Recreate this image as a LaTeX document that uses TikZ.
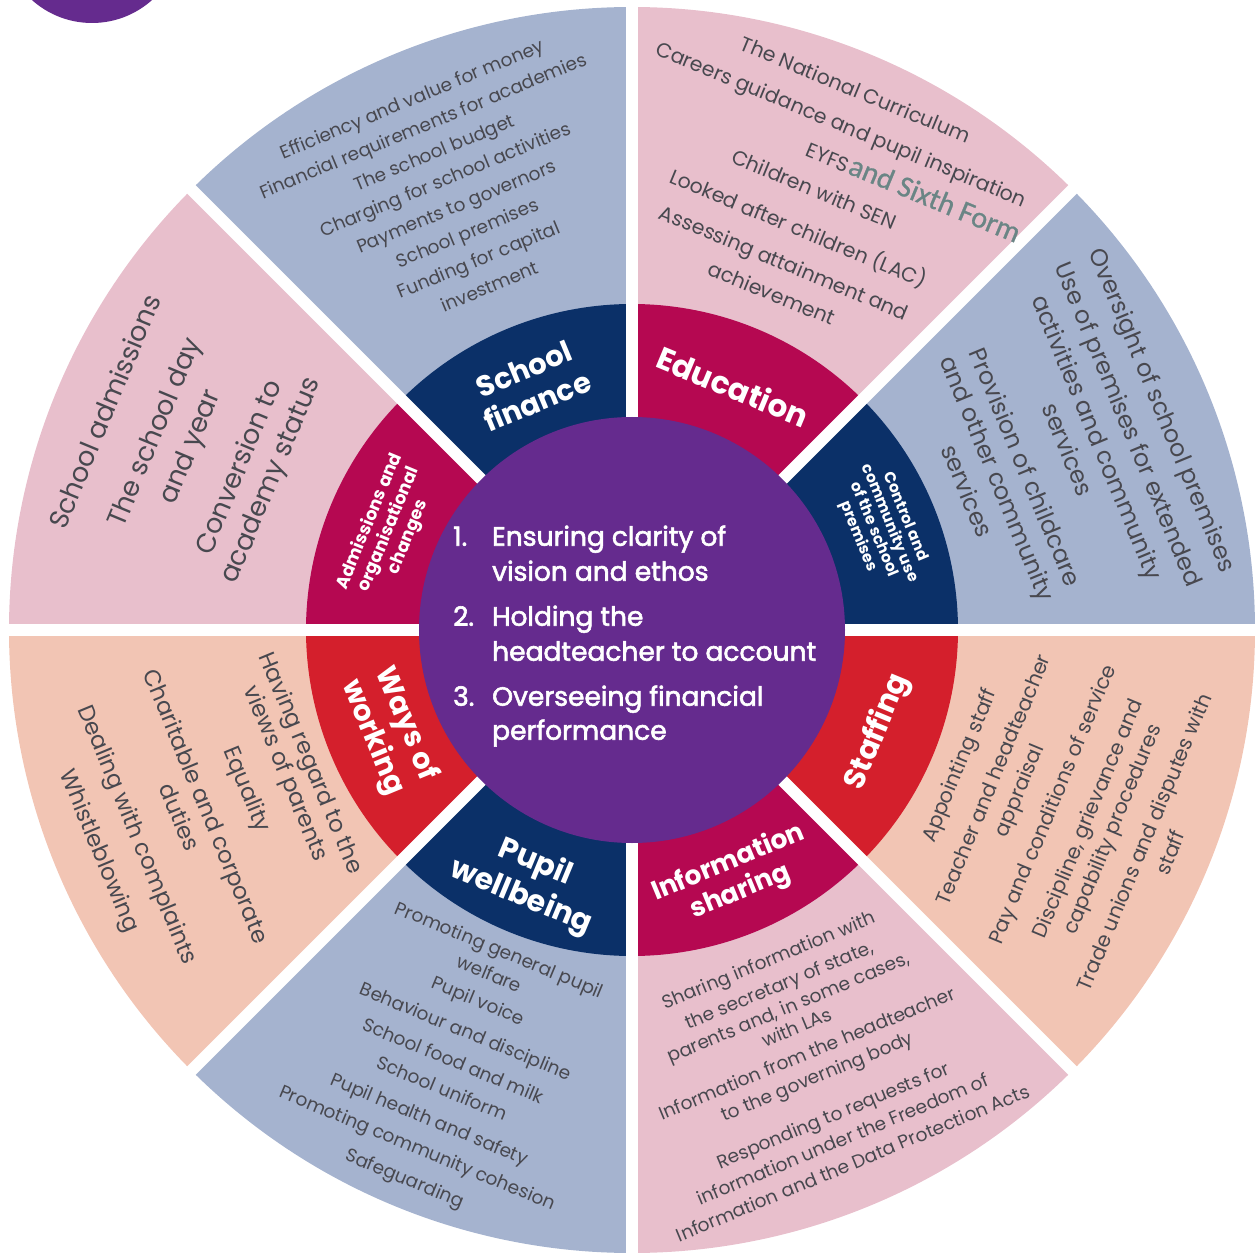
\documentclass[tikz,border=0pt]{standalone}
\usepackage{fontspec}
\setmainfont{Poppins}
\newfontfamily\addfont{Carlito}[FakeBold=0.8]
\newfontfamily\ctrfont{Poppins}[FakeBold=2.2]
\definecolor{cpurple}{HTML}{652B8E}
\definecolor{cnavy}{HTML}{0B3068}
\definecolor{cmag}{HTML}{B50851}
\definecolor{cred}{HTML}{D41F2C}
\definecolor{cblue}{HTML}{A5B3CF}
\definecolor{cpink}{HTML}{E8BFCC}
\definecolor{cpeach}{HTML}{F2C5B4}
\definecolor{ctext}{HTML}{48484F}
\definecolor{cadd}{HTML}{6A8585}
\begin{document}
\begin{tikzpicture}[x=1pt,y=1pt,
  otext/.style={text=ctext, inner sep=0pt, anchor=mid},
  btext/.style={text=white, inner sep=0pt, align=center, anchor=center},
  ctr/.style={text=white, inner sep=0pt, anchor=mid west, font=\ctrfont\fontsize{26.5}{26.5}\selectfont}]
\useasboundingbox (-632,-623) rectangle (623,630);
\clip (-632,-623) rectangle (623,630);
% logo fragment
\fill[cpurple] (-540,697) circle[radius=90];
% outer sectors
\foreach \a/\c in {90/cblue,45/cpink,0/cblue,-45/cpeach,-90/cpink,-135/cblue,180/cpeach,135/cpink}
  \fill[\c] (0,0) -- (\a:623) arc[start angle=\a, end angle=\a+45, radius=623] -- cycle;
% label bands
\foreach \a/\c in {90/cnavy,45/cmag,0/cnavy,-45/cred,-90/cmag,-135/cnavy,180/cred,135/cmag}
  \fill[\c] (0,0) -- (\a:326) arc[start angle=\a, end angle=\a+45, radius=326] -- cycle;
% gaps
\foreach \a in {0,45,...,315}
  \draw[white, line width=12pt] (0,0) -- (\a:660);
% centre
\fill[cpurple] (0,0) circle[radius=213];

% School finance
\foreach \r/\t [count=\i] in {571/Efficiency and value for money, 542/Financial requirements for academies, 513/The school budget, 484/Charging for school activities, 455/Payments to governors, 426/School premises, 397/Funding for capital, 368/investment}
  \node[otext, rotate=22.5, font=\fontsize{18.5}{18.5}\selectfont] (fin\i) at (112.5:\r) {\t};
% Education
\foreach \r/\t [count=\i] in {580/The National Curriculum, 543/Careers guidance and pupil inspiration, 507/EYFS, 472/Children with SEN, 430/Looked after children (LAC), 393/Assessing attainment and, 360/achievement}
  \node[otext, rotate=-22.5, font=\fontsize{20.4}{20.4}\selectfont] (edu\i) at (67.5:\r) {\t};
\node[text=cadd, inner sep=0pt, anchor=base west, rotate=-22.5, font=\addfont\fontsize{30}{30}\selectfont] (edux) at (edu3.base east) {\kern1pt and Sixth Form};
% Control
\foreach \r/\t [count=\i] in {569/Oversight of school premises, 532/Use of premises for extended, 498/activities and community, 466/services, 420/Provision of childcare, 390/and other community, 357/services}
  \node[otext, rotate=-67.5, font=\fontsize{24}{24}\selectfont] (con\i) at (22.5:\r) {\t};
% Staffing
\foreach \r/\t [count=\i] in {358/Appointing staff, 395/Teacher and headteacher, 423/appraisal, 459/Pay and conditions of service, 497/{Discipline, grievance and}, 524/capability procedures, 559/Trade unions and disputes with, 587/staff}
  \node[otext, rotate=67.5, font=\fontsize{20.5}{20.5}\selectfont] (sta\i) at (-22.5:\r) {\t};
% Information sharing
\foreach \r/\t [count=\i] in {361/Sharing information with, 388/{the secretary of state,}, 412/{parents and, in some cases,}, 434/with LAs, 462/Information from the headteacher, 487/to the governing body, 529/Responding to requests for, 555/information under the Freedom of, 581/Information and the Data Protection Acts}
  \node[otext, rotate=22.5, font=\fontsize{18.6}{18.6}\selectfont] (inf\i) at (-67.5:\r) {\t};
% Pupil wellbeing
\foreach \r/\t [count=\i] in {350/Promoting general pupil, 376/welfare, 405/Pupil voice, 438/Behaviour and discipline, 470/School food and milk, 500/School uniform, 533/Pupil health and safety, 564/Promoting community cohesion, 597/Safeguarding}
  \node[otext, rotate=-22.5, font=\fontsize{18.5}{18.5}\selectfont] (pup\i) at (-112.5:\r) {\t};
% Ways of working
\foreach \r/\t [count=\i] in {352/Having regard to the, 379/views of parents, 421/Equality, 466/Charitable and corporate, 495/duties, 540/Dealing with complaints, 581/Whistleblowing}
  \node[otext, rotate=-67.5, font=\fontsize{23}{23}\selectfont] (way\i) at (-157.5:\r) {\t};
% Admissions
\foreach \r/\t [count=\i] in {564/School admissions, 511/The school day, 473/and year, 420/Conversion to, 386/academy status}
  \node[otext, rotate=67.5, font=\fontsize{26.8}{26.8}\selectfont] (adm\i) at (157.5:\r) {\t};

% band labels
\node[btext, rotate=22.5, font=\bfseries\fontsize{29}{35}\selectfont] (bfin) at (112.5:265) {School\\finance};
\node[btext, rotate=-22.5, font=\bfseries\fontsize{31}{35}\selectfont] (bedu) at (67.5:264) {Education};
\node[btext, rotate=-67.5, font=\bfseries\fontsize{15.5}{17}\selectfont] (bcon) at (22.5:270) {Control and\\community use\\of the school\\premises};
\node[btext, rotate=67.5, font=\bfseries\fontsize{30}{35}\selectfont] (bsta) at (-22.5:266) {Staffing};
\node[btext, rotate=22.5, font=\bfseries\fontsize{26.5}{31}\selectfont] (binf) at (-67.5:268) {Information\\sharing};
\node[btext, rotate=-22.5, font=\bfseries\fontsize{30}{37}\selectfont] (bpup) at (-112.5:271) {Pupil\\wellbeing};
\node[btext, rotate=-67.5, font=\bfseries\fontsize{29}{36}\selectfont] (bway) at (-157.5:263) {Ways of\\working};
\node[btext, rotate=67.5, font=\bfseries\fontsize{17.5}{21}\selectfont] (badm) at (157.5:263) {Admissions and\\organisational\\changes};

% centre text
\node[ctr] (n1) at (-179,87) {1.};
\node[ctr] (c1a) at (-140,87) {Ensuring clarity of};
\node[ctr] (c1b) at (-140,52) {vision and ethos};
\node[ctr] (n2) at (-179,7) {2.};
\node[ctr] (c2a) at (-140,7) {Holding the};
\node[ctr] (c2b) at (-140,-28) {headteacher to account};
\node[ctr] (n3) at (-179,-73) {3.};
\node[ctr] (c3a) at (-140,-73) {Overseeing financial};
\node[ctr] (c3b) at (-140,-107) {performance};
\end{tikzpicture}
\end{document}
